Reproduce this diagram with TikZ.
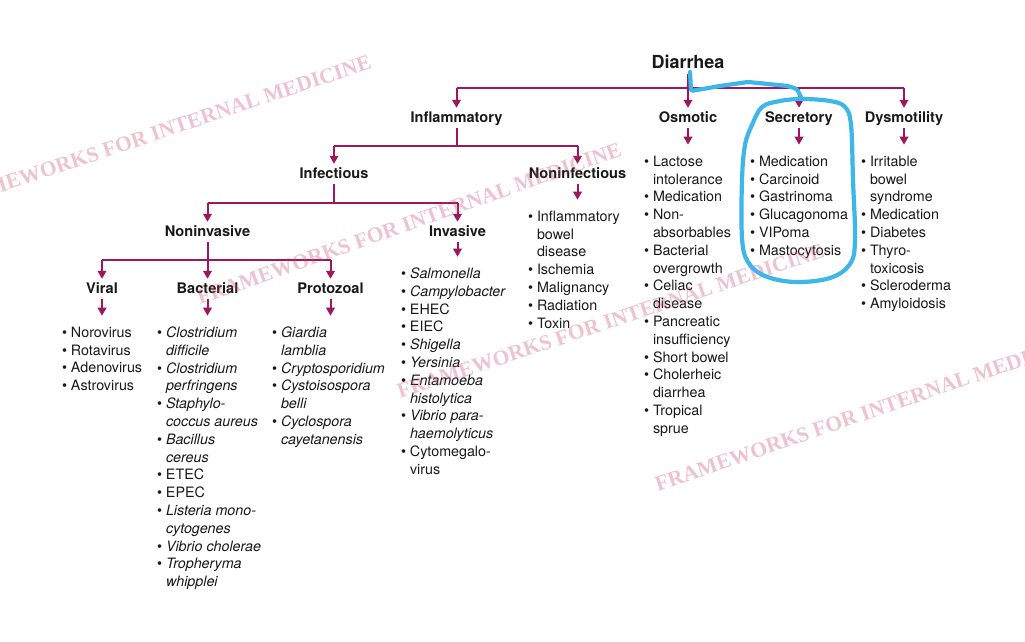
\documentclass[tikz,border=0pt]{standalone}
\usepackage{fontspec}
\setmainfont{TeX Gyre Heros}
\newfontfamily\wmfont{Liberation Serif}
\usetikzlibrary{arrows.meta}
\definecolor{fwline}{RGB}{158,22,92}
\definecolor{wmpink}{RGB}{205,70,110}
\definecolor{annblue}{RGB}{62,182,232}
\definecolor{ink}{RGB}{25,25,25}
\newcommand\lbul{\makebox[8.8pt][l]{•}}
\newcommand\lind{\hspace*{8.8pt}}
\begin{document}
\begin{tikzpicture}[x=1pt,y=-1pt,
  hd/.style={font=\fontsize{14.6}{17.8}\selectfont\bfseries, text=ink, anchor=base,
    inner xsep=0pt, inner ysep=2.5pt, text height=12pt, text depth=3pt},
  lst/.style={font=\fontsize{14.3}{17.8}\selectfont, text=ink, anchor=north west,
    inner sep=0pt, align=left},
  ln/.style={draw=fwline, line width=2pt},
  arr/.style={ln, -{Triangle[length=8pt,width=8.5pt]}},
  leaf/.style={arr, shorten >=11pt},
  wm/.style={font=\wmfont\bfseries\fontsize{21.5}{21.5}\selectfont, text=wmpink,
    text opacity=0.32, inner sep=0pt},
  ann/.style={draw=annblue, line width=4.2pt, line cap=round, line join=round},
]
\useasboundingbox (0,0) rectangle (1025,642);
\fill[white] (0,0) rectangle (1025,642);

% ---------- headings ----------
\node[hd, font=\fontsize{18}{20}\selectfont\bfseries, text height=13.5pt] (diar) at (688,68.5) {Diarrhea};
\node[hd] (infl) at (456.5,122.5) {Inflammatory};
\node[hd] (osm)  at (688,122.5) {Osmotic};
\node[hd] (sec)  at (799,122.5) {Secretory};
\node[hd] (dys)  at (904,122.5) {Dysmotility};
\node[hd] (infc)   at (334,178.5) {Infectious};
\node[hd] (noninf) at (577.5,178.5) {Noninfectious};
\node[hd] (noninv) at (207.5,236.5) {Noninvasive};
\node[hd] (inv)    at (457.5,236.5) {Invasive};
\node[hd] (viral) at (102,293.5) {Viral};
\node[hd] (bact)  at (207.5,293.5) {Bacterial};
\node[hd] (proto) at (330.5,293.5) {Protozoal};

% ---------- lists ----------
\node[lst] (lvir) at (62,326.7) {\lbul Norovirus\\\lbul Rotavirus\\\lbul Adenovirus\\\lbul Astrovirus};
\node[lst] (lbac) at (157,326.7) {\lbul\textit{Clostridium}\\\lind\textit{difficile}\\
  \lbul\textit{Clostridium}\\\lind\textit{perfringens}\\
  \lbul\textit{Staphylo-}\\\lind\textit{coccus aureus}\\
  \lbul\textit{Bacillus}\\\lind\textit{cereus}\\
  \lbul ETEC\\\lbul EPEC\\
  \lbul\textit{Listeria mono-}\\\lind\textit{cytogenes}\\
  \lbul\textit{Vibrio cholerae}\\
  \lbul\textit{Tropheryma}\\\lind\textit{whipplei}};
\node[lst] (lpro) at (272,326.7) {\lbul\textit{Giardia}\\\lind\textit{lamblia}\\
  \lbul\textit{Cryptosporidium}\\
  \lbul\textit{Cystoisospora}\\\lind\textit{belli}\\
  \lbul\textit{Cyclospora}\\\lind\textit{cayetanensis}};
\node[lst] (linv) at (401,267.7) {\lbul\textit{Salmonella}\\\lbul\textit{Campylobacter}\\
  \lbul EHEC\\\lbul EIEC\\\lbul\textit{Shigella}\\\lbul\textit{Yersinia}\\
  \lbul\textit{Entamoeba}\\\lind\textit{histolytica}\\
  \lbul\textit{Vibrio para-}\\\lind\textit{haemolyticus}\\
  \lbul Cytomegalo-\\\lind virus};
\node[lst] (lnon) at (528,210.7) {\lbul Inflammatory\\\lind bowel\\\lind disease\\
  \lbul Ischemia\\\lbul Malignancy\\\lbul Radiation\\\lbul Toxin};
\node[lst] (losm) at (644,155.7) {\lbul Lactose\\\lind intolerance\\
  \lbul Medication\\
  \lbul Non-\\\lind absorbables\\
  \lbul Bacterial\\\lind overgrowth\\
  \lbul Celiac\\\lind disease\\
  \lbul Pancreatic\\\lind insufficiency\\
  \lbul Short bowel\\
  \lbul Cholerheic\\\lind diarrhea\\
  \lbul Tropical\\\lind sprue};
\node[lst] (lsec) at (750,155.7) {\lbul Medication\\\lbul Carcinoid\\\lbul Gastrinoma\\
  \lbul Glucagonoma\\\lbul VIPoma\\\lbul Mastocytosis};
\node[lst] (ldys) at (861,155.7) {\lbul Irritable\\\lind bowel\\\lind syndrome\\
  \lbul Medication\\\lbul Diabetes\\
  \lbul Thyro-\\\lind toxicosis\\
  \lbul Scleroderma\\\lbul Amyloidosis};

% ---------- connectors ----------
\coordinate (b1) at (688,88);
\coordinate (b2) at (456,146);
\coordinate (b3) at (334,203);
\coordinate (b4) at (207,260);

\draw[ln] (diar.south) -- (diar.south |- b1);
\draw[ln] (infl |- b1) -- (dys |- b1);
\foreach \n in {infl,osm,sec,dys} \draw[arr] (\n |- b1) -- (\n.north);

\draw[ln] (infl.south) -- (infl.south |- b2);
\draw[ln] (infc |- b2) -- (noninf |- b2);
\foreach \n in {infc,noninf} \draw[arr] (\n |- b2) -- (\n.north);

\draw[ln] (infc.south) -- (infc.south |- b3);
\draw[ln] (noninv |- b3) -- (inv |- b3);
\foreach \n in {noninv,inv} \draw[arr] (\n |- b3) -- (\n.north);

\draw[ln] (noninv.south) -- (noninv.south |- b4);
\draw[ln] (viral |- b4) -- (proto |- b4);
\foreach \n in {viral,bact,proto} \draw[arr] (\n |- b4) -- (\n.north);

\draw[leaf] (osm.south) -- (osm.south |- losm.north);
\draw[leaf] (sec.south) -- (sec.south |- lsec.north);
\draw[leaf] (dys.south) -- (dys.south |- ldys.north);
\draw[leaf] (noninf.south) -- (noninf.south |- lnon.north);
\draw[leaf] (inv.south) -- (inv.south |- linv.north);
\draw[leaf] (viral.south) -- (viral.south |- lvir.north);
\draw[leaf] (bact.south) -- (bact.south |- lbac.north);
\draw[leaf] (proto.south) -- (proto.south |- lpro.north);

% ---------- watermarks ----------
\begin{scope}
\clip (0,0) rectangle (1025,642);
\node[wm, anchor=base east, rotate=18.5] (wm1) at (373,68) {FRAMEWORKS FOR INTERNAL MEDICINE};
\node[wm, anchor=base west, rotate=19.5] (wm2) at (200,305) {FRAMEWORKS FOR INTERNAL MEDICINE};
\node[wm, anchor=base west, rotate=18.5] (wm3) at (400,399) {FRAMEWORKS FOR INTERNAL MEDICINE};
\node[wm, anchor=base west, rotate=19] (wm4) at (658,492) {FRAMEWORKS FOR INTERNAL MEDICINE};
\end{scope}

% ---------- hand-drawn annotation ----------
\coordinate (hs) at (690,72);
\coordinate (he) at (802,99);
\draw[ann, rounded corners=2pt] (hs) -- (691,91) -- (720,86) -- (748,82) -- (788,86) -- (797,89) -- (he);
\draw[ann] plot[smooth cycle, tension=0.6] coordinates {
  (752,125) (762,107) (780,101) (802,99) (830,101) (845,107) (851,125)
  (853,180) (855,240) (850,264) (830,278) (795,282) (765,276) (748,262)
  (742,238) (742,180) (745,145)};
\end{tikzpicture}
\end{document}
